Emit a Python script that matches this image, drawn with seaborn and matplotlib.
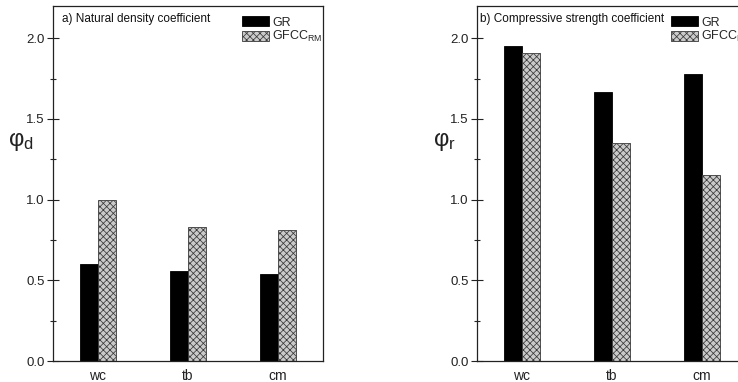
import matplotlib
matplotlib.use("Agg")
import matplotlib.pyplot as plt
import seaborn as sns
import pandas as pd
from matplotlib.ticker import MultipleLocator

categories = ["wc", "tb", "cm"]
series = ["GR", "GFCC"]
density_gr = [0.60, 0.56, 0.54]
density_gfcc = [1.00, 0.83, 0.81]
strength_gr = [1.95, 1.67, 1.78]
strength_gfcc = [1.91, 1.35, 1.15]
titles = ["a) Natural density coefficient", "b) Compressive strength coefficient"]
ylabels = [r"$\mathrm{φ}_\mathrm{d}$", r"$\mathrm{φ}_\mathrm{r}$"]
legend_labels = ["GR", r"GFCC$_\mathrm{RM}$"]

sns.set_theme(style="white")
plt.rcParams["font.family"] = ["Liberation Sans", "DejaVu Sans"]
plt.rcParams["mathtext.fontset"] = "custom"
plt.rcParams["mathtext.rm"] = "Liberation Sans"
plt.rcParams["mathtext.it"] = "Liberation Sans:italic"
plt.rcParams["hatch.linewidth"] = 0.55

def make_df(gr, gfcc):
    return pd.DataFrame({
        "cat": categories * 2,
        "series": [series[0]] * 3 + [series[1]] * 3,
        "val": list(gr) + list(gfcc),
    })

fig = plt.figure(figsize=(7.38, 3.82), dpi=100)
W, H = 738, 382
positions = [(53, 6, 270, 355), (477, 6, 270, 355)]
datasets = [(density_gr, density_gfcc), (strength_gr, strength_gfcc)]

for i, ((x0, y0, w, h), (gr, gfcc)) in enumerate(zip(positions, datasets)):
    ax = fig.add_axes([x0 / W, (H - y0 - h) / H, w / W, h / H])
    df = make_df(gr, gfcc)
    sns.barplot(data=df, x="cat", y="val", hue="series", order=categories,
                hue_order=series, palette={"GR": "black", "GFCC": "#cacaca"},
                width=0.4, ax=ax, legend=False, saturation=1)
    for p in ax.containers[0]:
        p.set_edgecolor("black")
        p.set_linewidth(0.6)
    for p in ax.containers[1]:
        p.set_hatch("xxxxx")
        p.set_edgecolor("#3a3a3a")
        p.set_linewidth(0.6)
    ax.set_xlim(-0.5, 2.5)
    ax.set_ylim(0, 2.2)
    ax.yaxis.set_major_locator(MultipleLocator(0.5))
    ax.yaxis.set_minor_locator(MultipleLocator(0.25))
    ax.yaxis.set_major_formatter(matplotlib.ticker.FormatStrFormatter("%.1f"))
    ax.tick_params(axis="y", which="major", direction="inout", length=8, width=0.8,
                   labelsize=9.5, pad=2, left=True, colors="#222222")
    ax.tick_params(axis="y", which="minor", direction="inout", length=4, width=0.8, left=True)
    ax.tick_params(axis="x", length=0, labelsize=10, pad=6, colors="#222222")
    for s in ax.spines.values():
        s.set_color("#222222")
        s.set_linewidth(0.9)
    ax.set_xlabel("")
    ax.set_ylabel(ylabels[i], fontsize=17, rotation=0, color="#222222")
    ax.yaxis.set_label_coords(-0.12, 0.585)
    ax.text(0.035 if i == 0 else 0.01, 0.962, titles[i], transform=ax.transAxes,
            fontsize=8.5, va="center", ha="left", color="#111111")
    handles = [ax.containers[0][0], ax.containers[1][0]]
    ax.legend(handles, legend_labels, loc="upper left",
              bbox_to_anchor=(0.664 if i == 0 else 0.683, 1.0), frameon=False,
              fontsize=9, handlelength=2.1, handleheight=0.9,
              handletextpad=0.3, labelspacing=0.05, borderpad=0.3)

fig.savefig("out.png", dpi=100)
